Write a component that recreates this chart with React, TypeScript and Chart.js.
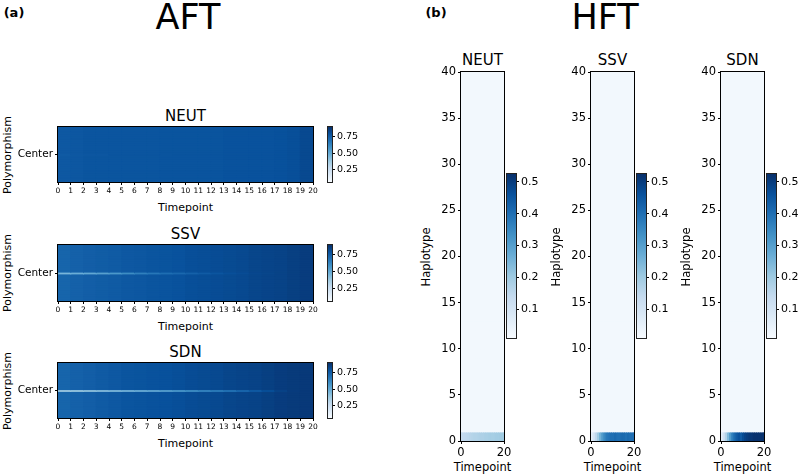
import React, { useEffect, useRef } from "react";
import { Chart, registerables } from "chart.js";
Chart.register(...registerables);

const FONT = "'DejaVu Sans', 'Liberation Sans', sans-serif";
Chart.defaults.font.family = FONT;
Chart.defaults.color = "#000";

// ---------------- DATA ----------------
const TIME_TICKS = [0, 1, 2, 3, 4, 5, 6, 7, 8, 9, 10, 11, 12, 13, 14, 15, 16, 17, 18, 19, 20];
const HFT_TIME_TICKS = [0, 20];
const HAPLO_TICKS = [0, 5, 10, 15, 20, 25, 30, 35, 40];
const AFT_CB_TICKS = [0.25, 0.5, 0.75];
const HFT_CB_TICKS = [0.1, 0.2, 0.3, 0.4, 0.5];
const AFT_RANGE = [0.055, 0.9];
const HFT_RANGE = [0.011, 0.524];
const AFT_ROWS = 31;
const AFT_CENTER_ROW = 15;
const HFT_ROWS = 40;

// allele frequency per timepoint column (background polymorphisms / centre polymorphism)
const AFT_NEUT_BG = [0.77, 0.775, 0.78, 0.78, 0.78, 0.78, 0.78, 0.78, 0.785, 0.785, 0.785, 0.785, 0.785, 0.79, 0.79, 0.79, 0.79, 0.795, 0.8, 0.82];
const AFT_NEUT_CENTER = [0.76, 0.77, 0.775, 0.775, 0.78, 0.78, 0.78, 0.78, 0.78, 0.785, 0.785, 0.785, 0.785, 0.79, 0.79, 0.79, 0.79, 0.795, 0.8, 0.82];
const AFT_SSV_BG = [0.73, 0.74, 0.75, 0.755, 0.76, 0.77, 0.775, 0.78, 0.785, 0.79, 0.8, 0.805, 0.81, 0.815, 0.82, 0.83, 0.835, 0.84, 0.85, 0.86];
const AFT_SSV_CENTER = [0.45, 0.48, 0.5, 0.53, 0.56, 0.6, 0.64, 0.67, 0.7, 0.72, 0.74, 0.76, 0.78, 0.8, 0.81, 0.825, 0.83, 0.84, 0.85, 0.86];
const AFT_SDN_BG = [0.73, 0.74, 0.75, 0.76, 0.77, 0.78, 0.785, 0.79, 0.795, 0.8, 0.81, 0.815, 0.82, 0.83, 0.835, 0.84, 0.85, 0.86, 0.865, 0.87];
const AFT_SDN_CENTER = [0.37, 0.38, 0.4, 0.42, 0.44, 0.46, 0.48, 0.5, 0.53, 0.56, 0.59, 0.62, 0.65, 0.68, 0.72, 0.76, 0.8, 0.84, 0.86, 0.87];

// haplotype frequency: haplotype 0 per timepoint, all other haplotypes
const HFT_BG = 0.025;
const HFT_NEUT_ROW0 = [0.14, 0.145, 0.15, 0.155, 0.16, 0.165, 0.17, 0.17, 0.175, 0.18, 0.18, 0.185, 0.185, 0.19, 0.19, 0.19, 0.195, 0.195, 0.2, 0.2];
const HFT_SSV_ROW0 = [0.06, 0.1, 0.15, 0.2, 0.26, 0.31, 0.35, 0.38, 0.39, 0.4, 0.4, 0.41, 0.4, 0.4, 0.41, 0.41, 0.4, 0.41, 0.4, 0.4];
const HFT_SDN_ROW0 = [0.06, 0.11, 0.17, 0.24, 0.31, 0.37, 0.41, 0.44, 0.46, 0.44, 0.47, 0.49, 0.5, 0.51, 0.51, 0.52, 0.52, 0.52, 0.52, 0.52];

// ---------------- COLOUR MAP ----------------
const BLUES = ["#f7fbff", "#deebf7", "#c6dbef", "#9ecae1", "#6baed6", "#4292c6", "#2171b5", "#08519c", "#08306b"];
function hexRgb(h: string) {
  return [parseInt(h.slice(1, 3), 16), parseInt(h.slice(3, 5), 16), parseInt(h.slice(5, 7), 16)];
}
const BLUES_RGB = BLUES.map(hexRgb);
function blues(t: number) {
  const tt = Math.max(0, Math.min(1, t));
  const p = tt * 8;
  const i = Math.min(7, Math.floor(p));
  const f = p - i;
  const a = BLUES_RGB[i], b = BLUES_RGB[i + 1];
  const c = a.map((v, k) => Math.round(v + (b[k] - v) * f));
  return `rgb(${c[0]},${c[1]},${c[2]})`;
}

// ---------------- PLUGINS ----------------
const framePlugin = {
  id: "frame",
  afterDatasetsDraw(chart: any) {
    const { ctx, chartArea: a } = chart;
    ctx.save();
    ctx.strokeStyle = "#000";
    ctx.lineWidth = 1;
    ctx.strokeRect(Math.round(a.left) - 0.5, Math.round(a.top) - 0.5, Math.round(a.right - a.left) + 1, Math.round(a.bottom - a.top) + 1);
    ctx.restore();
  },
};

const gradientPlugin = {
  id: "cbgrad",
  beforeDatasetsDraw(chart: any) {
    const { ctx, chartArea: a } = chart;
    const g = ctx.createLinearGradient(0, a.bottom, 0, a.top);
    BLUES.forEach((c, i) => g.addColorStop(i / 8, c));
    ctx.save();
    ctx.fillStyle = g;
    ctx.fillRect(a.left, a.top, a.right - a.left, a.bottom - a.top);
    ctx.strokeStyle = "#222";
    ctx.lineWidth = 1;
    ctx.strokeRect(Math.round(a.left) - 0.5, Math.round(a.top) - 0.5, Math.round(a.right - a.left) + 1, Math.round(a.bottom - a.top) + 1);
    ctx.restore();
  },
};

function noPad(s: any) {
  s.paddingTop = 0;
  s.paddingBottom = 0;
  s.paddingLeft = 0;
  s.paddingRight = 0;
}

// ---------------- CONFIG BUILDERS ----------------
type HeatOpts = {
  grid: number[][];
  rowPos: (r: number) => number;
  yMin: number;
  yMax: number;
  yTicks: number[];
  yLabel: (v: number) => string;
  yAxisWidth: number;
  yTickSize: number;
  xTicks: number[];
  xTickSize: number;
  xAxisHeight: number;
  range: number[];
  padTop: number;
  padRight: number;
};

function heatConfig(o: HeatOpts): any {
  const points: any[] = [];
  const colors: string[] = [];
  o.grid.forEach((row, r) => {
    row.forEach((v, c) => {
      points.push({ x: [c, c + 1], y: o.rowPos(r) });
      colors.push(blues((v - o.range[0]) / (o.range[1] - o.range[0])));
    });
  });
  const nCols = o.grid[0].length;
  return {
    type: "bar",
    data: {
      datasets: [
        {
          data: points,
          backgroundColor: colors,
          borderWidth: 0,
          barPercentage: 1,
          categoryPercentage: 1,
          inflateAmount: 0.5,
        },
      ],
    },
    options: {
      indexAxis: "y",
      responsive: false,
      animation: false,
      events: [],
      layout: { padding: { left: 0, top: o.padTop, right: o.padRight, bottom: 2 } },
      plugins: { legend: { display: false }, tooltip: { enabled: false } },
      scales: {
        x: {
          type: "linear",
          min: 0,
          max: nCols,
          offset: false,
          afterBuildTicks: (s: any) => {
            s.ticks = o.xTicks.map((v) => ({ value: v }));
          },
          afterFit: (s: any) => {
            s.height = o.xAxisHeight;
            noPad(s);
          },
          ticks: { autoSkip: false, maxRotation: 0, font: { size: o.xTickSize }, color: "#000", padding: 2 },
          grid: { display: true, offset: false, drawOnChartArea: false, drawTicks: true, tickLength: 3, color: "#000" },
          border: { display: false },
          title: { display: false },
        },
        y: {
          type: "linear",
          min: o.yMin,
          max: o.yMax,
          offset: false,
          afterBuildTicks: (s: any) => {
            s.ticks = o.yTicks.map((v) => ({ value: v }));
          },
          afterFit: (s: any) => {
            s.width = o.yAxisWidth;
            noPad(s);
          },
          ticks: { autoSkip: false, font: { size: o.yTickSize }, color: "#000", padding: 2, callback: (v: any) => o.yLabel(Number(v)) },
          grid: { display: true, offset: false, drawOnChartArea: false, drawTicks: true, tickLength: 3, color: "#000" },
          border: { display: false },
          title: { display: false },
        },
      },
    },
    plugins: [framePlugin],
  };
}

function colorbarConfig(range: number[], ticks: number[], decimals: number, fontSize: number, axisWidth: number): any {
  return {
    type: "bar",
    data: { labels: [], datasets: [] },
    options: {
      responsive: false,
      animation: false,
      events: [],
      layout: { padding: { left: 1, top: 8, right: 1, bottom: 8 } },
      plugins: { legend: { display: false }, tooltip: { enabled: false } },
      scales: {
        x: { display: false },
        y: {
          type: "linear",
          position: "right",
          min: range[0],
          max: range[1],
          afterBuildTicks: (s: any) => {
            s.ticks = ticks.map((v) => ({ value: v }));
          },
          afterFit: (s: any) => {
            s.width = axisWidth;
            noPad(s);
          },
          ticks: { autoSkip: false, font: { size: fontSize }, color: "#000", padding: 2, callback: (v: any) => Number(v).toFixed(decimals) },
          grid: { display: true, drawOnChartArea: false, drawTicks: true, tickLength: 3, color: "#000" },
          border: { display: false },
        },
      },
    },
    plugins: [gradientPlugin],
  };
}

function aftGrid(bg: number[], center: number[]) {
  const g: number[][] = [];
  for (let r = 0; r < AFT_ROWS; r++) g.push(r === AFT_CENTER_ROW ? center : bg);
  return g;
}
function hftGrid(row0: number[]) {
  const g: number[][] = [row0];
  for (let r = 1; r < HFT_ROWS; r++) g.push(row0.map(() => HFT_BG));
  return g;
}

// ---------------- COMPONENTS ----------------
function ChartCanvas({ left, top, width, height, config }: { left: number; top: number; width: number; height: number; config: any }) {
  const ref = useRef<HTMLCanvasElement>(null);
  useEffect(() => {
    const chart = new Chart(ref.current as HTMLCanvasElement, config);
    return () => chart.destroy();
  }, []);
  return <canvas ref={ref} width={width} height={height} style={{ position: "absolute", left, top, width, height }} />;
}

function Label({ x, y, text, size, bold, rotate }: { x: number; y: number; text: string; size: number; bold?: boolean; rotate?: boolean }) {
  return (
    <div
      style={{
        position: "absolute",
        left: x,
        top: y,
        transform: rotate ? "translate(-50%, -50%) rotate(-90deg)" : "translate(-50%, -50%)",
        fontFamily: FONT,
        fontSize: size,
        fontWeight: bold ? "bold" : "normal",
        lineHeight: 1,
        whiteSpace: "nowrap",
        color: "#000",
      }}
    >
      {text}
    </div>
  );
}

const AFT_PANELS = [
  { title: "NEUT", bg: AFT_NEUT_BG, center: AFT_NEUT_CENTER, top: 127, h: 55, titleY: 116 },
  { title: "SSV", bg: AFT_SSV_BG, center: AFT_SSV_CENTER, top: 245, h: 56, titleY: 234 },
  { title: "SDN", bg: AFT_SDN_BG, center: AFT_SDN_CENTER, top: 363, h: 55, titleY: 352 },
];
const HFT_PANELS = [
  { title: "NEUT", row0: HFT_NEUT_ROW0, left: 461 },
  { title: "SSV", row0: HFT_SSV_ROW0, left: 591 },
  { title: "SDN", row0: HFT_SDN_ROW0, left: 721 },
];

export default function App() {
  const hTop = 72;
  const hH = 369;
  const hW = 43;
  const cbTop = 174;
  const cbH = 164;
  return (
    <div style={{ position: "fixed", left: 0, top: 0, width: 800, height: 475, background: "#fff", overflow: "hidden" }}>
      <Label x={14} y={12} text="(a)" size={13} bold />
      <Label x={436} y={12} text="(b)" size={13} bold />
      <Label x={188} y={17} text="AFT" size={35} />
      <Label x={605} y={17} text="HFT" size={35} />

      {AFT_PANELS.map((p) => (
        <React.Fragment key={"a" + p.title}>
          <Label x={185.5} y={p.titleY} text={p.title} size={15} />
          <Label x={185.5} y={p.top + p.h + 25} text="Timepoint" size={11} />
          <Label x={7} y={p.top + p.h / 2} text="Polymorphism" size={11} rotate />
          <ChartCanvas
            left={0}
            top={p.top - 2}
            width={313 + 8}
            height={2 + p.h + 32 + 2}
            config={heatConfig({
              grid: aftGrid(p.bg, p.center),
              rowPos: (r) => r,
              yMin: -0.5,
              yMax: AFT_ROWS - 0.5,
              yTicks: [AFT_CENTER_ROW],
              yLabel: () => "Center",
              yAxisWidth: 58,
              yTickSize: 10.5,
              xTicks: TIME_TICKS,
              xTickSize: 7.5,
              xAxisHeight: 32,
              range: AFT_RANGE,
              padTop: 2,
              padRight: 8,
            })}
          />
          <ChartCanvas
            left={327}
            top={p.top - 8}
            width={36}
            height={8 + p.h + 8}
            config={colorbarConfig(AFT_RANGE, AFT_CB_TICKS, 2, 9.5, 30)}
          />
        </React.Fragment>
      ))}

      {HFT_PANELS.map((p) => (
        <React.Fragment key={"h" + p.title}>
          <Label x={p.left + hW / 2} y={60} text={p.title} size={15} />
          <Label x={p.left + hW / 2} y={468} text="Timepoint" size={11.5} />
          <Label x={p.left - 34} y={hTop + hH / 2} text="Haplotype" size={11.5} rotate />
          <ChartCanvas
            left={p.left - 41}
            top={hTop - 8}
            width={41 + hW + 10}
            height={8 + hH + 34 + 2}
            config={heatConfig({
              grid: hftGrid(p.row0),
              rowPos: (r) => r + 0.5,
              yMin: 0,
              yMax: HFT_ROWS,
              yTicks: HAPLO_TICKS,
              yLabel: (v) => String(v),
              yAxisWidth: 41,
              yTickSize: 11.5,
              xTicks: HFT_TIME_TICKS,
              xTickSize: 11.5,
              xAxisHeight: 34,
              range: HFT_RANGE,
              padTop: 8,
              padRight: 10,
            })}
          />
          <ChartCanvas
            left={p.left + hW + 2}
            top={cbTop - 8}
            width={43}
            height={8 + cbH + 8}
            config={colorbarConfig(HFT_RANGE, HFT_CB_TICKS, 1, 11, 32)}
          />
        </React.Fragment>
      ))}
    </div>
  );
}
